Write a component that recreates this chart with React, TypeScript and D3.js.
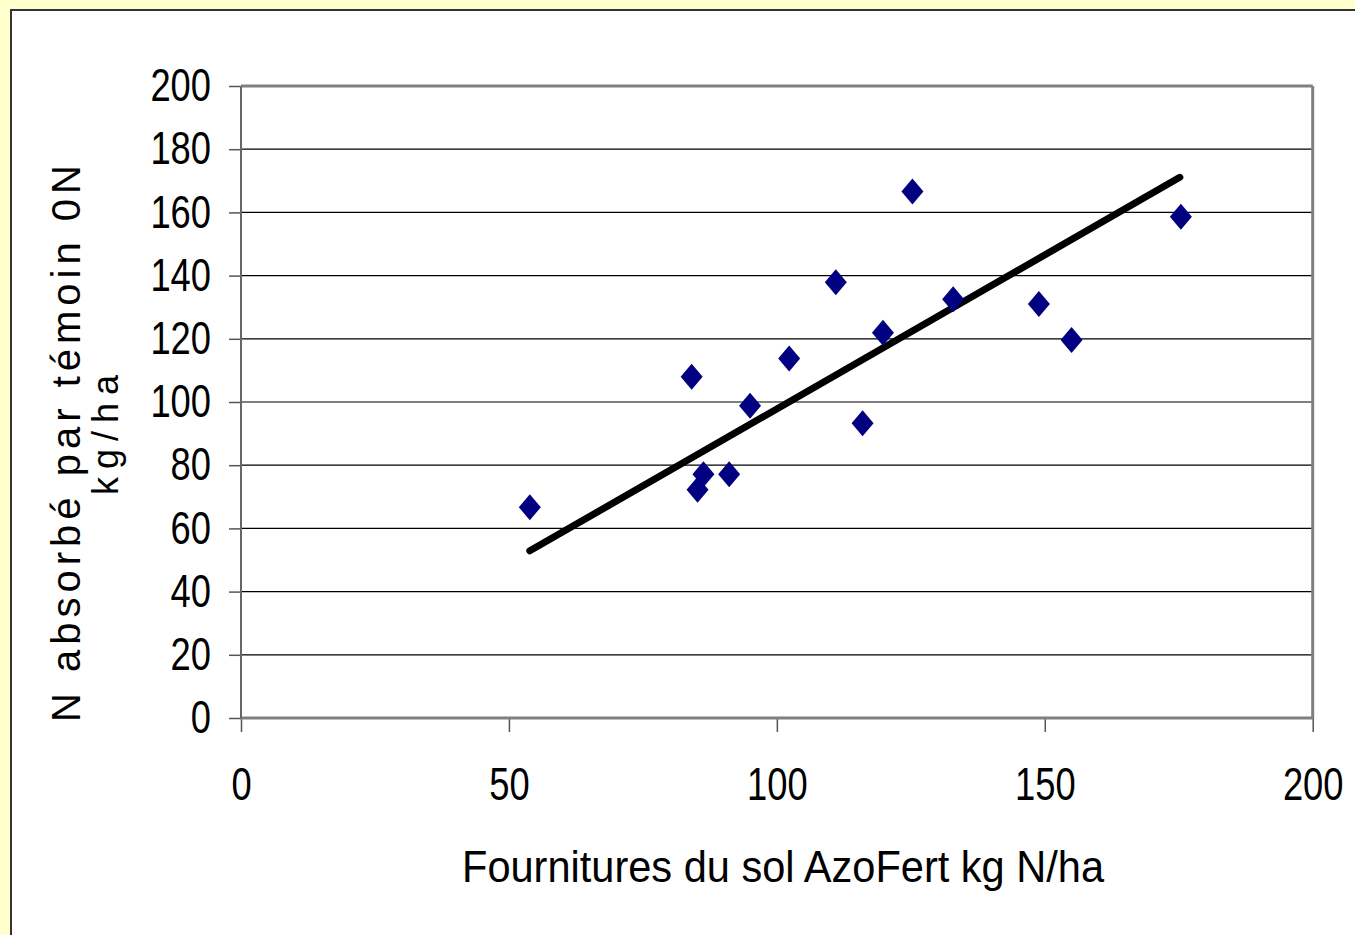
import React, { useEffect, useRef } from 'react';
import * as d3 from 'd3';

// valeurs
const fournitures = [53.9, 84.1, 85.2, 86.3, 91.1, 95.0, 102.3, 111.0, 116.0, 119.8, 125.3, 132.9, 148.9, 155.0, 175.4];
const absorbe = [66.7, 108.0, 72.2, 77.1, 77.1, 98.8, 113.8, 137.9, 93.3, 121.9, 166.6, 132.5, 131.0, 119.6, 158.6];
const trendX = [53.9, 175.2];
const trendY = [52.9, 171.1];
const xTicks = [0, 50, 100, 150, 200];
const yTicks = [0, 20, 40, 60, 80, 100, 120, 140, 160, 180, 200];
const xTitle = 'Fournitures du sol AzoFert kg N/ha';
const yTitle1 = 'N  absorbé par témoin 0N';
const yTitle2 = 'kg/ha';

export default function App() {
  const ref = useRef<SVGSVGElement>(null);

  useEffect(() => {
    const width = 1355;
    const height = 935;
    const left = 241, right = 1312.7, top = 86, bottom = 718;
    const font = '"Liberation Sans", Arial, sans-serif';
    const squeeze = 0.79; // chiffres étroits

    const svg = d3.select(ref.current);
    svg.selectAll('*').remove();

    svg.append('rect').attr('width', width).attr('height', height).attr('fill', '#ffffcc');
    svg.append('rect')
      .attr('x', 11).attr('y', 10)
      .attr('width', width).attr('height', height)
      .attr('fill', '#fff').attr('stroke', '#333').attr('stroke-width', 2);

    const x = d3.scaleLinear().domain([0, 200]).range([left, right]);
    const y = d3.scaleLinear().domain([0, 200]).range([bottom, top]);

    // grille
    svg.append('g').selectAll('line')
      .data(yTicks.filter(d => d > 0 && d < 200))
      .enter().append('line')
      .attr('x1', left).attr('x2', right)
      .attr('y1', d => y(d)).attr('y2', d => y(d))
      .attr('stroke', '#000').attr('stroke-width', 1.2);

    // axes
    const yAxis = svg.append('g')
      .attr('transform', 'translate(' + left + ',0)')
      .call(d3.axisLeft(y).tickValues(yTicks).tickSize(12).tickPadding(18).tickFormat(d3.format('d')));
    const xAxis = svg.append('g')
      .attr('transform', 'translate(0,' + bottom + ')')
      .call(d3.axisBottom(x).tickValues(xTicks).tickSize(14).tickPadding(35).tickFormat(d3.format('d')));

    [yAxis, xAxis].forEach(g => {
      g.select('.domain').remove();
      g.selectAll('line').attr('stroke', '#555').attr('stroke-width', 1.5);
      g.selectAll('text')
        .attr('fill', '#000')
        .attr('transform', 'scale(' + squeeze + ',1)')
        .style('font-family', font)
        .style('font-size', '46px');
    });
    yAxis.selectAll('text').attr('x', -30 / squeeze);

    // cadre du tracé
    const frame = svg.append('g').attr('fill', 'none').attr('stroke', '#808080');
    frame.append('line').attr('x1', left).attr('x2', right).attr('y1', top).attr('y2', top).attr('stroke-width', 3);
    frame.append('line').attr('x1', right).attr('x2', right).attr('y1', top).attr('y2', bottom).attr('stroke-width', 3);
    frame.append('line').attr('x1', left).attr('x2', right).attr('y1', bottom).attr('y2', bottom).attr('stroke-width', 3);
    frame.append('line').attr('x1', left).attr('x2', left).attr('y1', top).attr('y2', bottom).attr('stroke', '#666').attr('stroke-width', 2);

    // droite
    const line = d3.line<number>()
      .x(d => x(d))
      .y((d, i) => y(trendY[i]));
    svg.append('path')
      .attr('d', line(trendX))
      .attr('fill', 'none')
      .attr('stroke', '#000')
      .attr('stroke-width', 7)
      .attr('stroke-linecap', 'round');

    // points
    svg.append('g').selectAll('path')
      .data(fournitures)
      .enter().append('path')
      .attr('d', 'M0,-13L11,0L0,13L-11,0Z')
      .attr('transform', (d, i) => 'translate(' + x(d) + ',' + y(absorbe[i]) + ')')
      .attr('fill', '#000080');

    // titres
    svg.append('text')
      .attr('x', 783).attr('y', 882)
      .attr('text-anchor', 'middle')
      .attr('textLength', 642).attr('lengthAdjust', 'spacingAndGlyphs')
      .style('font-family', font).style('font-size', '44px')
      .text(xTitle);

    svg.append('text')
      .attr('transform', 'translate(80,443.5) rotate(-90)')
      .attr('text-anchor', 'middle')
      .attr('textLength', 557).attr('lengthAdjust', 'spacing')
      .style('font-family', font).style('font-size', '40px')
      .text(yTitle1);
    svg.append('text')
      .attr('transform', 'translate(118,435) rotate(-90)')
      .attr('text-anchor', 'middle')
      .attr('textLength', 120).attr('lengthAdjust', 'spacing')
      .style('font-family', font).style('font-size', '36px')
      .text(yTitle2);
  }, []);

  return (
    <svg ref={ref} width={1355} height={935} style={{ position: 'absolute', left: 0, top: 0 }} />
  );
}
